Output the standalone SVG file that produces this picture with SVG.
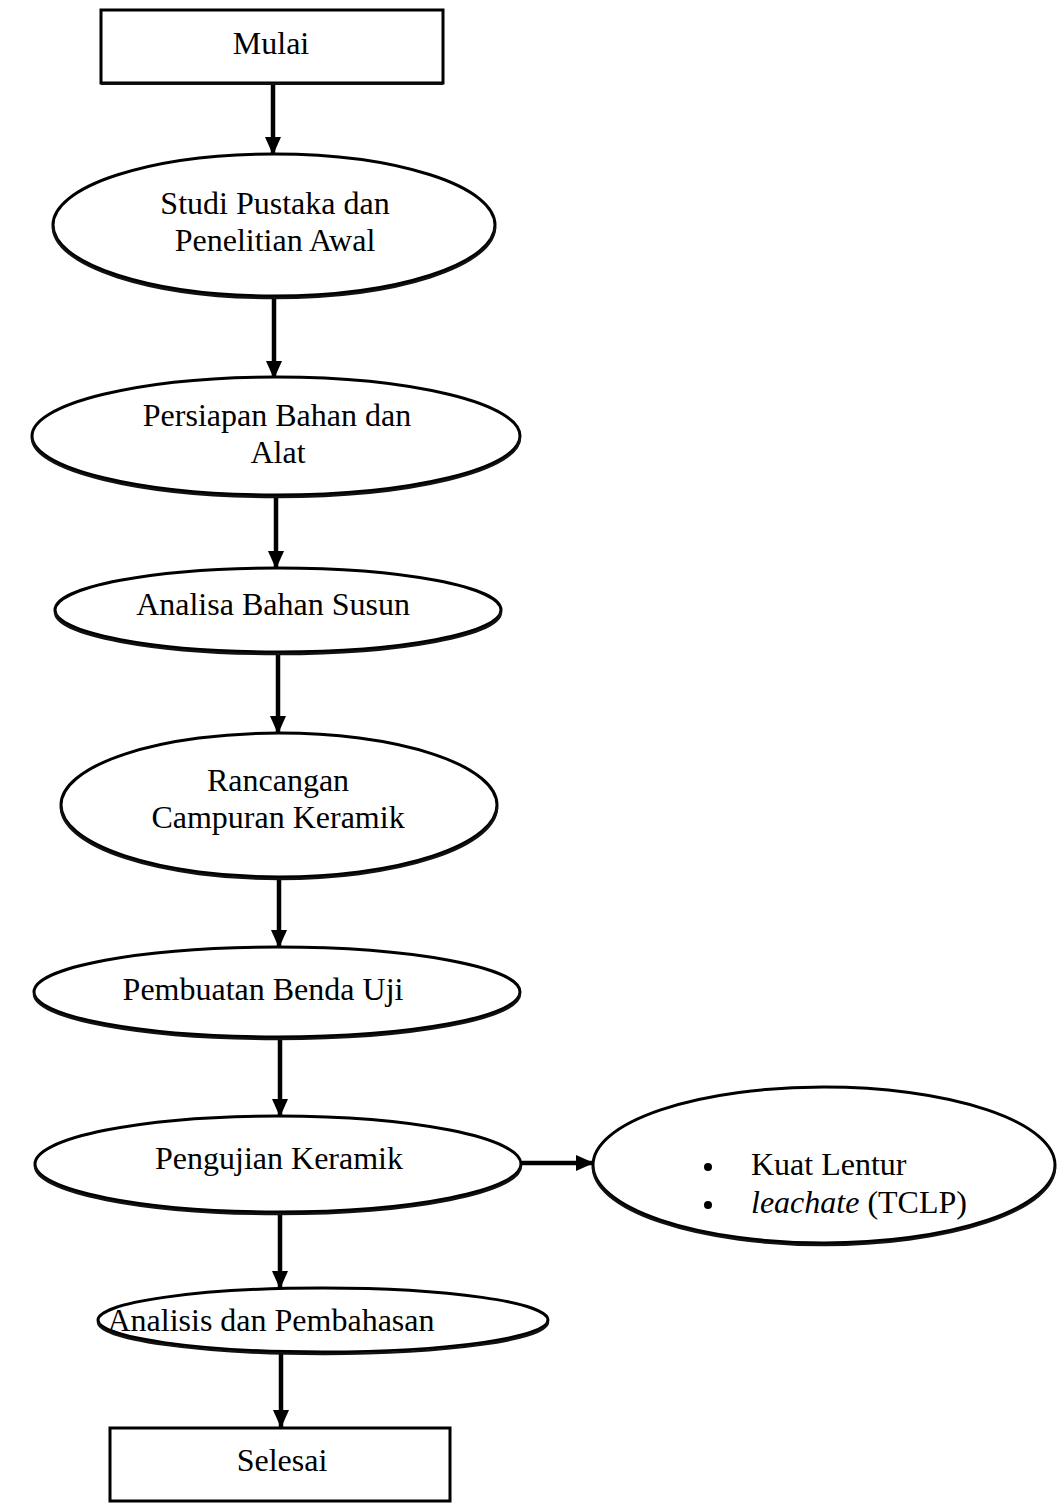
<svg xmlns="http://www.w3.org/2000/svg" width="1064" height="1504" viewBox="0 0 1064 1504">
<defs>
<marker id="ah" viewBox="0 0 18 16" refX="17" refY="8" markerWidth="18" markerHeight="16" markerUnits="userSpaceOnUse" orient="auto">
<path d="M0,0 L18,8 L0,16 z" fill="#000"/>
</marker>
</defs>
<style>
.box{fill:#fff;stroke:#000;stroke-width:3}
.ell{fill:#fff;stroke:#000;stroke-width:3}
.sh{fill:none;stroke:#111;stroke-width:2.5}
.t{font-family:"Liberation Serif","Times New Roman",serif;font-size:32px;fill:#000;text-anchor:middle}
.tl{font-family:"Liberation Serif","Times New Roman",serif;font-size:32px;fill:#000}
.c{stroke:#000;stroke-width:4.5;fill:none;marker-end:url(#ah)}
</style>
<rect width="1064" height="1504" fill="#fff"/>
<g id="connectors">
<line class="c" x1="273" y1="83" x2="273" y2="154"/>
<line class="c" x1="274" y1="297" x2="274" y2="378"/>
<line class="c" x1="276" y1="495" x2="276" y2="568"/>
<line class="c" x1="278" y1="652" x2="278" y2="733"/>
<line class="c" x1="279" y1="877" x2="279" y2="947"/>
<line class="c" x1="280" y1="1037" x2="280" y2="1116"/>
<line class="c" x1="521" y1="1163" x2="593" y2="1163"/>
<line class="c" x1="280" y1="1212" x2="280" y2="1288"/>
<line class="c" x1="281" y1="1352" x2="281" y2="1427"/>
</g>
<g id="mulai">
<rect class="box" x="101" y="10" width="342" height="73"/>
<line x1="101" y1="84" x2="443" y2="84" stroke="#111" stroke-width="2"/>
<text class="t" x="271" y="54">Mulai</text>
</g>
<g id="studi">
<ellipse class="ell" cx="274" cy="225" rx="221" ry="71"/>
<path class="sh" d="M53,227 A221,71 0 0 0 495,227"/>
<text class="t" x="275" y="214">Studi Pustaka dan</text>
<text class="t" x="275" y="251">Penelitian Awal</text>
</g>
<g id="persiapan">
<ellipse class="ell" cx="276" cy="436" rx="244" ry="59"/>
<path class="sh" d="M32,438 A244,59 0 0 0 520,438"/>
<text class="t" x="277" y="426">Persiapan Bahan dan</text>
<text class="t" x="278" y="463">Alat</text>
</g>
<g id="analisa">
<ellipse class="ell" cx="278" cy="610" rx="223" ry="42"/>
<path class="sh" d="M55,612 A223,42 0 0 0 501,612"/>
<text class="t" x="273" y="615">Analisa Bahan Susun</text>
</g>
<g id="rancangan">
<ellipse class="ell" cx="279" cy="805" rx="218" ry="72"/>
<path class="sh" d="M61,807 A218,72 0 0 0 497,807"/>
<text class="t" x="278" y="791">Rancangan</text>
<text class="t" x="278" y="828">Campuran Keramik</text>
</g>
<g id="pembuatan">
<ellipse class="ell" cx="277" cy="992" rx="243" ry="45"/>
<path class="sh" d="M34,994 A243,45 0 0 0 520,994"/>
<text class="t" x="263" y="1000">Pembuatan Benda Uji</text>
</g>
<g id="pengujian">
<ellipse class="ell" cx="278" cy="1164" rx="243" ry="48"/>
<path class="sh" d="M35,1166 A243,48 0 0 0 521,1166"/>
<text class="t" x="279" y="1169">Pengujian Keramik</text>
</g>
<g id="hasil-uji">
<ellipse class="ell" cx="824" cy="1165" rx="231" ry="78"/>
<path class="sh" d="M593,1167 A231,78 0 0 0 1055,1167"/>
<circle cx="708" cy="1167" r="4" fill="#000"/>
<circle cx="708" cy="1205" r="4" fill="#000"/>
<text class="tl" x="751" y="1175">Kuat Lentur</text>
<text class="tl" x="751" y="1213"><tspan font-style="italic">leachate</tspan> (TCLP)</text>
</g>
<g id="analisis">
<ellipse class="ell" cx="323" cy="1320" rx="225" ry="32"/>
<path class="sh" d="M98,1322 A225,32 0 0 0 548,1322"/>
<text class="t" x="271" y="1331">Analisis dan Pembahasan</text>
</g>
<g id="selesai">
<rect class="box" x="110" y="1428" width="340" height="73"/>
<text class="t" x="282" y="1471">Selesai</text>
</g>
</svg>
